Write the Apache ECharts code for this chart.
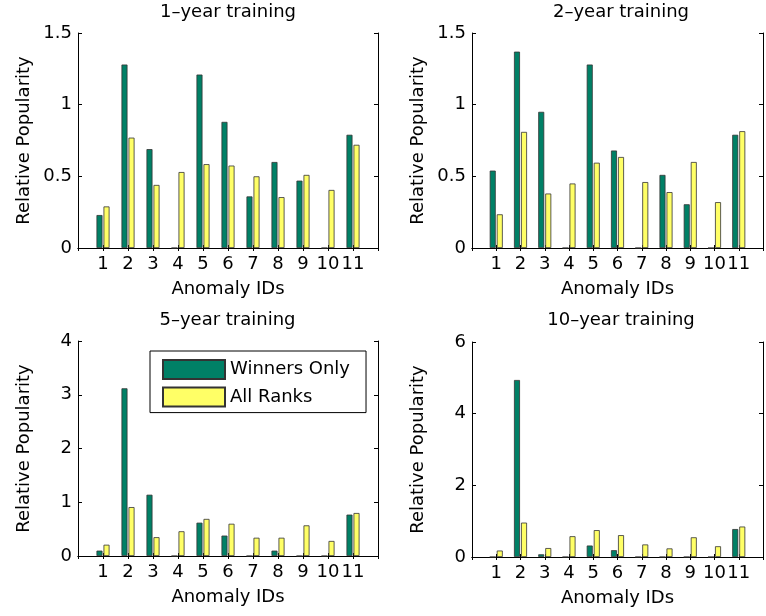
<!DOCTYPE html>
<html>
<head>
<meta charset="utf-8">
<script src="https://cdn.jsdelivr.net/npm/echarts@6/dist/echarts.min.js"></script>
<style>
  html, body { margin: 0; padding: 0; background: #fff; }
  #chart { width: 766px; height: 616px; }
</style>
</head>
<body>
<div id="chart"></div>
<script>
// ---- data ----
const anomalyIds = ['1', '2', '3', '4', '5', '6', '7', '8', '9', '10', '11'];
const seriesNames = ['Winners Only', 'All Ranks'];
const panelTitles = ['1\u2013year training', '2\u2013year training', '5\u2013year training', '10\u2013year training'];

const winners1 = [0.23, 1.28, 0.69, 0, 1.21, 0.88, 0.36, 0.60, 0.47, 0, 0.79];
const allRanks1 = [0.29, 0.77, 0.44, 0.53, 0.585, 0.575, 0.50, 0.355, 0.51, 0.405, 0.72];

const winners2 = [0.54, 1.37, 0.95, 0, 1.28, 0.68, 0, 0.51, 0.305, 0, 0.79];
const allRanks2 = [0.235, 0.81, 0.38, 0.45, 0.595, 0.635, 0.46, 0.39, 0.60, 0.32, 0.815];

const winners5 = [0.10, 3.12, 1.14, 0, 0.62, 0.38, 0, 0.10, 0, 0, 0.77];
const allRanks5 = [0.21, 0.91, 0.35, 0.46, 0.69, 0.60, 0.34, 0.34, 0.57, 0.28, 0.80];

const winners10 = [0, 4.94, 0.075, 0, 0.32, 0.19, 0, 0, 0, 0, 0.78];
const allRanks10 = [0.18, 0.96, 0.25, 0.58, 0.75, 0.61, 0.35, 0.24, 0.55, 0.30, 0.85];

const yMax = [1.5, 1.5, 4, 6];
const yStep = [0.5, 0.5, 1, 2];
const panelData = [
  [winners1, allRanks1],
  [winners2, allRanks2],
  [winners5, allRanks5],
  [winners10, allRanks10]
];

// ---- layout / style ----
const FONT = 'DejaVu Sans';
const FS = 18;
const colors = ['#008066', '#FFFF66'];
const grids = [
  { left: 78, top: 33, width: 300, height: 215 },
  { left: 472, top: 33, width: 300, height: 215 },
  { left: 78, top: 341, width: 300, height: 215 },
  { left: 472, top: 342, width: 300, height: 215 }
];
const titlePos = [[228, 12], [621, 12], [227.5, 320], [621, 320]];

// category axis padded with blank ends so the axis spans 0..12
const axisCats = [''].concat(anomalyIds, ['']);
const pad = arr => [null].concat(arr, [null]);

const lineStyle = { color: '#000', width: 1 };
const xAxes = [], yAxes = [], series = [], titles = [];

grids.forEach((g, i) => {
  xAxes.push({
    type: 'category', gridIndex: i, data: axisCats, boundaryGap: false, position: 'bottom',
    axisLine: { lineStyle }, axisTick: { inside: true, length: 3, lineStyle },
    axisLabel: { interval: 0, margin: 7, color: '#000', fontFamily: FONT, fontSize: FS },
    splitLine: { show: false },
    name: 'Anomaly IDs', nameLocation: 'middle', nameGap: 32,
    nameTextStyle: { color: '#000', fontFamily: FONT, fontSize: FS }
  });
  xAxes.push({
    type: 'category', gridIndex: i, data: axisCats, boundaryGap: false, position: 'top',
    axisLine: { lineStyle }, axisTick: { inside: true, length: 3, lineStyle },
    axisLabel: { show: false }, splitLine: { show: false }
  });
  yAxes.push({
    type: 'value', gridIndex: i, min: 0, max: yMax[i], interval: yStep[i], position: 'left',
    axisLine: { show: true, lineStyle }, axisTick: { show: true, inside: true, length: 4, lineStyle },
    axisLabel: { margin: 6, color: '#000', fontFamily: FONT, fontSize: FS },
    splitLine: { show: false },
    name: 'Relative Popularity', nameLocation: 'middle', nameGap: 45,
    nameTextStyle: { color: '#000', fontFamily: FONT, fontSize: FS }
  });
  yAxes.push({
    type: 'value', gridIndex: i, min: 0, max: yMax[i], interval: yStep[i], position: 'right',
    axisLine: { show: true, lineStyle }, axisTick: { show: true, inside: true, length: 4, lineStyle },
    axisLabel: { show: false }, splitLine: { show: false }
  });
  panelData[i].forEach((vals, k) => {
    series.push({
      type: 'bar', name: seriesNames[k], xAxisIndex: 2 * i, yAxisIndex: 2 * i,
      data: pad(vals), barWidth: 6, barGap: '17%',
      itemStyle: { color: colors[k], borderColor: '#333', borderWidth: 0.8 },
      emphasis: { disabled: true }, animation: false
    });
  });
  titles.push({
    text: panelTitles[i], left: titlePos[i][0], top: titlePos[i][1],
    textAlign: 'center', textVerticalAlign: 'middle', padding: 0,
    textStyle: { color: '#000', fontFamily: FONT, fontSize: FS, fontWeight: 'normal' }
  });
});

const chart = echarts.init(document.getElementById('chart'), null, { renderer: 'canvas' });
chart.setOption({
  animation: false,
  backgroundColor: '#fff',
  title: titles,
  grid: grids,
  xAxis: xAxes,
  yAxis: yAxes,
  legend: {
    data: seriesNames.map(n => ({ name: n, icon: 'rect' })),
    orient: 'vertical', left: 150, top: 351,
    itemWidth: 62, itemHeight: 19, itemGap: 6.6,
    padding: [8, 16, 5, 12],
    borderColor: '#000', borderWidth: 1, backgroundColor: '#fff',
    selectedMode: false,
    textStyle: { color: '#000', fontFamily: FONT, fontSize: FS }
  },
  series: series
});
</script>
</body>
</html>
